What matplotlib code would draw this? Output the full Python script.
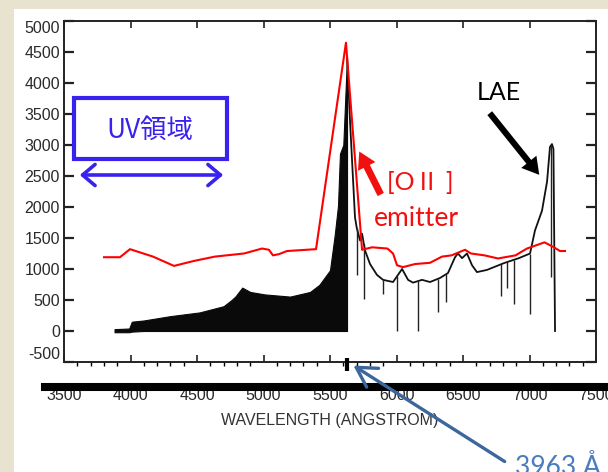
import matplotlib
matplotlib.use("Agg")
import matplotlib.pyplot as plt
import numpy as np
from matplotlib import font_manager
from matplotlib.patches import Rectangle, FancyArrowPatch
from matplotlib.lines import Line2D
from matplotlib.ticker import MultipleLocator

# --- spectrum ---
# noisy blue part: upper / lower envelope of the forest
wl_blue = [3880, 3990, 4010, 4100, 4300, 4520, 4700, 4760, 4790, 4840, 4900,
           5010, 5200, 5350, 5420, 5500, 5535, 5560, 5575, 5600, 5628]
flux_blue_hi = [30, 40, 150, 170, 240, 300, 400, 500, 560, 700, 630,
                590, 555, 630, 745, 980, 1540, 2015, 2860, 3000, 4430]
flux_blue_lo = [-20, -20, -10, 0, 0, 0, 0, 0, 0, 0, 0,
                0, 0, 0, 0, 0, 0, 0, 0, 0, 0]

# red part: single trace from the [OII] peak to the LAE line
wl_red = [5628, 5651, 5688, 5701, 5726, 5741, 5763, 5801, 5853, 5899, 5974,
          6042, 6087, 6124, 6192, 6252, 6327, 6387, 6440, 6462, 6493, 6530,
          6568, 6605, 6680, 6808, 6920, 7004, 7041, 7094, 7132, 7154, 7169,
          7180, 7192]
flux_red = [4430, 3365, 1830, 1665, 1460, 1570, 1300, 1080, 905, 825, 790,
            1000, 825, 780, 825, 790, 855, 935, 1190, 1250, 1175, 1250,
            1060, 950, 985, 1095, 1175, 1250, 1620, 1940, 2410, 2970, 3015,
            2935, 0]

# absorption spikes in the red part (wavelength, bottom of spike)
spike_wl = [5701, 5755, 5899, 6004, 6160, 6310, 6370, 6785, 6830, 6880, 7004, 7165]
spike_lo = [900, 510, 590, 0, 0, 300, 475, 560, 700, 430, 280, 870]

# red template curve
tmpl_wl = [3801, 3835, 3921, 3996, 4068, 4169, 4327, 4477, 4635, 4853, 4989,
           5041, 5071, 5117, 5177, 5395, 5620, 5741, 5816, 5932, 5974, 6004,
           6049, 6139, 6252, 6342, 6414, 6515, 6560, 6662, 6763, 6895, 6981,
           7113, 7184, 7229, 7267]
tmpl_flux = [1190, 1190, 1190, 1320, 1270, 1200, 1050, 1130, 1200, 1250, 1330,
             1310, 1220, 1240, 1290, 1320, 4650, 1310, 1350, 1330, 1250, 1060,
             1030, 1080, 1100, 1200, 1220, 1310, 1250, 1220, 1170, 1220, 1330,
             1430, 1350, 1290, 1290]

xticks = [3500, 4000, 4500, 5000, 5500, 6000, 6500, 7000, 7500]
yticks = [-500, 0, 500, 1000, 1500, 2000, 2500, 3000, 3500, 4000, 4500, 5000]
marker_wl = 5628  # where 3963 A lands

W, H = 608, 472
def fp(x, y):
    # pixel position -> figure fraction
    return (x / W, 1 - y / H)

plt.rcParams['axes.unicode_minus'] = False
names = {f.name for f in font_manager.fontManager.ttflist}
narrow = 'Liberation Sans' if 'Liberation Sans' in names else 'DejaVu Sans'
slide = ['Lato', 'Noto Sans CJK JP', 'DejaVu Sans']
cjk = ['Noto Sans CJK JP', 'DejaVu Sans']

fig = plt.figure(figsize=(6.08, 4.72), dpi=100, facecolor='#e8e3cf')
fig.add_artist(Rectangle((14 / W, 0), (W - 14) / W, (H - 9) / H, transform=fig.transFigure,
                         facecolor='white', edgecolor='none', zorder=-10))

ax = fig.add_axes([64 / W, 1 - 362 / H, (596 - 64) / W, (362 - 21) / H])
ax.fill_between(wl_blue, flux_blue_lo, flux_blue_hi, color='#0a0a0a', lw=0.8)
ax.plot(wl_red, flux_red, color='#111111', lw=1.3)
ax.vlines(spike_wl, spike_lo, np.interp(spike_wl, wl_red, flux_red), color='#222222', lw=1.0)
ax.plot(tmpl_wl, tmpl_flux, color='#ff0000', lw=1.5, zorder=4)

ax.set_xlim(3500, 7500); ax.set_ylim(-500, 5000)
ax.set_xticks(xticks); ax.set_yticks(yticks)
ax.xaxis.set_minor_locator(MultipleLocator(100))
ax.tick_params(direction='in', top=True, right=True, colors='#222222')
ax.tick_params(axis='y', which='major', length=7.5, width=1.6, pad=3)
ax.tick_params(axis='x', which='major', length=5, width=1.2, pad=18.5)
ax.tick_params(axis='x', which='minor', length=3, width=1.0)
for s in ax.spines.values():
    s.set_linewidth(1.4); s.set_color('#222222')
for lab in ax.get_xticklabels() + ax.get_yticklabels():
    lab.set_family(narrow); lab.set_fontsize(11.5); lab.set_color('#2a2a2a')
ticks = ax.yaxis.get_major_ticks()
ticks[-1].label1.set_va('top'); ticks[0].label1.set_va('bottom')

# thick bar under the frame and the 3963 A marker
fig.add_artist(Line2D([45 / W, 1], [1 - 387 / H] * 2, transform=fig.transFigure,
                      color='black', lw=5.8, zorder=5))
ax.vlines(marker_wl, -645, -435, color='black', lw=3, clip_on=False, zorder=6)
fig.text(*fp(330, 421), 'WAVELENGTH (ANGSTROM)', ha='center', va='center',
         family=narrow, fontsize=11.5, color='#333333')

# UV region box + double arrow
blue = '#3a22ee'
fig.add_artist(Rectangle(fp(74, 159), 153 / W, 61 / H, transform=fig.transFigure,
                         facecolor='none', edgecolor=blue, lw=3, zorder=7))
fig.text(*fp(150, 130), 'UV領域', ha='center', va='center', color=blue,
         family=cjk, fontsize=19, zorder=7)
fig.add_artist(FancyArrowPatch(fp(77, 175), fp(226, 175), transform=fig.transFigure,
                               arrowstyle='<->,head_length=0.45,head_width=0.38',
                               mutation_scale=20, color=blue, lw=2.6, zorder=7))

# [OII] emitter
fig.add_artist(FancyArrowPatch(fp(382, 197), fp(358, 149), transform=fig.transFigure,
                               arrowstyle='simple,head_length=0.6,head_width=0.7,tail_width=0.25',
                               mutation_scale=20, color='#f01010', lw=0, zorder=7))
fig.text(*fp(387, 182), '[OⅡ ]', ha='left', va='center', color='#f01010',
         family=slide, fontsize=18, zorder=7)
fig.text(*fp(374, 218), 'emitter', ha='left', va='center', color='#f01010',
         family=slide, fontsize=19, zorder=7)

# LAE
fig.text(*fp(499, 93), 'LAE', ha='center', va='center', color='black',
         family=slide, fontsize=18, zorder=7)
fig.add_artist(FancyArrowPatch(fp(488, 111), fp(541, 177), transform=fig.transFigure,
                               arrowstyle='simple,head_length=0.6,head_width=0.7,tail_width=0.22',
                               mutation_scale=20, color='black', lw=0, zorder=7))

# 3963 A pointer
fig.add_artist(FancyArrowPatch(fp(507, 463), fp(351, 364), transform=fig.transFigure,
                               arrowstyle='->,head_length=0.7,head_width=0.4',
                               mutation_scale=20, color='#3d679c', lw=2.4, zorder=7))
fig.text(*fp(515, 475), '3963 Å', ha='left', va='baseline', color='#4a7cc0',
         family=slide, fontsize=19, zorder=7)

fig.savefig('out.png', dpi=100, facecolor=fig.get_facecolor())
